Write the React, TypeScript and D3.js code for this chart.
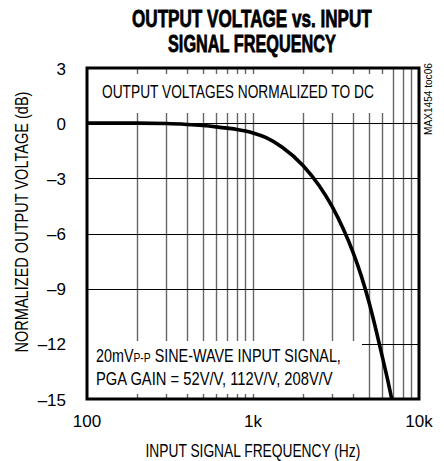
import React, { useEffect, useRef } from "react";
import * as d3 from "d3";

// 주파수(Hz)와 정규화된 출력 전압(dB)
const freqs = [100, 200, 300, 400, 500, 600, 700, 800, 900, 1000, 1200, 1500, 2000, 2500, 3000, 3500, 4000, 4500, 5000, 5500, 6000, 6500, 6850];
const gainDb = [0, 0, -0.02, -0.07, -0.13, -0.2, -0.27, -0.34, -0.43, -0.53, -0.79, -1.31, -2.3, -3.39, -4.54, -5.76, -7.01, -8.33, -9.74, -11.22, -12.67, -14.03, -15.0];

const yTicks = [3, 0, -3, -6, -9, -12, -15];
const xTickValues = [100, 1000, 10000];
const xTickLabels = ["100", "1k", "10k"];

const FONT = "'Liberation Sans', Arial, sans-serif";

const App = () => {
  const svgRef = useRef<SVGSVGElement>(null);

  useEffect(() => {
    const svg = d3.select(svgRef.current);
    svg.selectAll("*").remove();

    const left = 87;
    const right = 419;
    const top = 68;
    const bottom = 399;

    const x = d3.scaleLog().domain([100, 10000]).range([left, right]);
    const y = d3.scaleLinear().domain([-15, 3]).range([bottom, top]);

    // 좁은 글꼴 흉내: 글자 폭을 재서 가로로만 줄입니다.
    const narrow = (
      parent: d3.Selection<any, unknown, null, undefined>,
      tx: number,
      ty: number,
      width: number,
      anchor: string,
      rotate = 0
    ) => {
      const g = parent.append("g");
      const t = g.append("text");
      return {
        t,
        fit: () => {
          const w = (t.node() as SVGTextElement).getComputedTextLength();
          const s = width / w;
          const dx = anchor === "middle" ? -width / 2 : anchor === "end" ? -width : 0;
          g.attr("transform", `translate(${tx},${ty}) rotate(${rotate}) translate(${dx},0) scale(${s},1)`);
        },
      };
    };

    // 세로 격자선 (200..900, 1k..9k)
    const minor: number[] = [];
    for (let dec = 100; dec < 10000; dec *= 10) {
      for (let k = 1; k < 10; k++) {
        if (dec * k > 100) minor.push(dec * k);
      }
    }
    const grid = svg.append("g").attr("stroke", "#000").attr("stroke-width", 1);
    minor.forEach((f) => {
      grid
        .append("line")
        .attr("x1", Math.round(x(f)) + 0.5)
        .attr("x2", Math.round(x(f)) + 0.5)
        .attr("y1", top)
        .attr("y2", bottom)
        .attr("stroke", "#666")
        .attr("stroke-width", 1.4);
    });
    // 가로 격자선
    yTicks.slice(1, -1).forEach((v) => {
      grid
        .append("line")
        .attr("x1", left)
        .attr("x2", right)
        .attr("y1", Math.round(y(v)) + 0.5)
        .attr("y2", Math.round(y(v)) + 0.5);
    });

    // 텍스트 상자 (격자선을 가림)
    svg.append("rect").attr("x", left).attr("y", top + 6).attr("width", 298).attr("height", 39).attr("fill", "#fff");
    svg.append("rect").attr("x", left).attr("y", 341).attr("width", 275).attr("height", bottom - 5 - 341).attr("fill", "#fff");

    const texts: { fit: () => void }[] = [];

    const topNote = narrow(svg, 102, 98, 272, "start");
    topNote.t.attr("font-size", 18).text("OUTPUT VOLTAGES NORMALIZED TO DC");
    texts.push(topNote);

    const note1 = narrow(svg, 96, 362, 245, "start");
    note1.t.attr("font-size", 18);
    note1.t.append("tspan").text("20mV");
    note1.t.append("tspan").attr("font-size", 13).text("P-P");
    note1.t.append("tspan").text(" SINE-WAVE INPUT SIGNAL,");
    texts.push(note1);

    const note2 = narrow(svg, 96, 385, 237, "start");
    note2.t.attr("font-size", 18).text("PGA GAIN = 52V/V, 112V/V, 208V/V");
    texts.push(note2);

    // 곡선
    const line = d3
      .line<number>()
      .x((d, i) => x(freqs[i]))
      .y((d) => y(d))
      .curve(d3.curveMonotoneX);
    svg
      .append("path")
      .attr("d", line(gainDb))
      .attr("fill", "none")
      .attr("stroke", "#000")
      .attr("stroke-width", 3.6);

    // 테두리
    svg
      .append("rect")
      .attr("x", left)
      .attr("y", top)
      .attr("width", right - left)
      .attr("height", bottom - top)
      .attr("fill", "none")
      .attr("stroke", "#000")
      .attr("stroke-width", 3);

    // 축 눈금 라벨
    yTicks.forEach((v) => {
      svg
        .append("text")
        .attr("x", 66)
        .attr("y", y(v) + 6.5)
        .attr("text-anchor", "end")
        .attr("font-size", 17)
        .text(v < 0 ? "\u2013" + Math.abs(v) : String(v));
    });
    xTickValues.forEach((v, i) => {
      svg
        .append("text")
        .attr("x", x(v))
        .attr("y", 427)
        .attr("text-anchor", "middle")
        .attr("font-size", 17)
        .text(xTickLabels[i]);
    });

    // 축 제목
    const xTitle = narrow(svg, 253, 457, 215, "middle");
    xTitle.t.attr("font-size", 18).text("INPUT SIGNAL FREQUENCY (Hz)");
    texts.push(xTitle);

    const yTitle = narrow(svg, 28, 222, 261, "middle", -90);
    yTitle.t.attr("font-size", 18).text("NORMALIZED OUTPUT VOLTAGE (dB)");
    texts.push(yTitle);

    const code = narrow(svg, 432, 99, 72, "middle", -90);
    code.t.attr("font-size", 10).text("MAX1454 toc06");
    texts.push(code);

    // 제목
    const title1 = narrow(svg, 252, 27, 240, "middle");
    title1.t
      .attr("font-size", 24)
      .attr("font-weight", 900)
      .attr("stroke", "#000")
      .attr("stroke-width", 0.8)
      .text("OUTPUT VOLTAGE vs. INPUT");
    texts.push(title1);

    const title2 = narrow(svg, 252, 52, 168, "middle");
    title2.t
      .attr("font-size", 24)
      .attr("font-weight", 900)
      .attr("stroke", "#000")
      .attr("stroke-width", 0.8)
      .text("SIGNAL FREQUENCY");
    texts.push(title2);

    texts.forEach((t) => t.fit());
  }, []);

  return (
    <svg
      ref={svgRef}
      width={444}
      height={461}
      style={{ position: "absolute", left: 0, top: 0, background: "#fff", fontFamily: FONT }}
    ></svg>
  );
};

export default App;
